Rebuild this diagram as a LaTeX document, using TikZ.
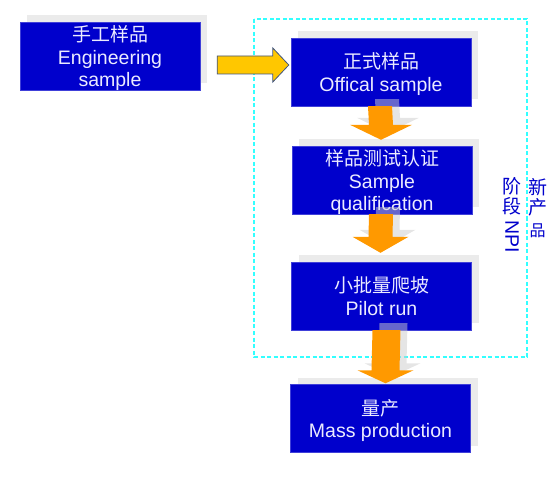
\documentclass[tikz,border=0pt]{standalone}
\usepackage{fontspec}
\setmainfont{Liberation Sans}
\newfontfamily\cjk{Noto Sans CJK SC}
\usetikzlibrary{calc,shadows,positioning}
\definecolor{boxBlue}{rgb}{0,0,0.8}
\definecolor{boxText}{rgb}{0.92,0.92,1}
\definecolor{shadowGray}{rgb}{0.92,0.92,0.92}
\definecolor{arrowShade}{rgb}{0.8,0.8,0.8}
\definecolor{npiCyan}{rgb}{0.2,1,1}
\definecolor{stepOrange}{rgb}{1,0.6,0}
\definecolor{pushYellow}{rgb}{1,0.78,0}
\definecolor{pushBorder}{rgb}{0.25,0.33,0.5}
\newcommand{\zh}[1]{{\cjk\fontsize{19}{22}\selectfont #1}}
% lower the lines of a stage a little, keep its size
\newcommand{\stageText}[1]{\raisebox{-3.5pt}[\height][\depth]{\begin{tabular}{@{}c@{}}#1\end{tabular}}}
\begin{document}
\begin{tikzpicture}[x=1pt,y=-1pt,
  stage/.style={fill=boxBlue, draw=boxBlue!75!white, line width=0.4pt, text=boxText,
    minimum width=180pt, minimum height=68pt, inner sep=0pt, align=center,
    font=\fontsize{19.5}{22.5}\selectfont,
    drop shadow={shadow xshift=7pt, shadow yshift=7pt, fill=shadowGray, opacity=1}},
  stepFill/.style={fill=stepOrange},
  stepShade/.style={fill=arrowShade, fill opacity=0.5},
  npiText/.style={text=boxBlue, inner sep=0pt}]

\useasboundingbox (0,0) rectangle (554,486);

% the NPI frame
\draw [npiCyan, line width=1.3pt, dash pattern=on 4pt off 2.5pt] (254,19) rectangle (527,357);

% the stages
\node[stage] (eng)   at (110,56)      {\stageText{\zh{手工样品}\\Engineering\\sample}};
\node[stage] (off)   at (381,72)      {\stageText{\zh{正式样品}\\Offical sample}};
\node[stage] (qual)  at (382,180)     {\stageText{\zh{样品测试认证}\\Sample\\qualification}};
\node[stage] (pilot) at (381.5,296)   {\stageText{\zh{小批量爬坡}\\Pilot run}};
\node[stage] (mass)  at (380.5,418.5) {\stageText{\zh{量产}\\Mass production}};

% push arrow into the NPI frame
\coordinate (pushStart) at ($(eng.east)+(17,9)$);
\coordinate (pushTip) at ($(off.west)+(-2,-7)$);
\filldraw[fill=pushYellow, draw=pushBorder, line width=0.8pt]
  ($(pushStart)+(0,-9)$) -- ($(pushTip)+(-16,-9)$) -- ($(pushTip)+(-16,-17)$) -- (pushTip)
  -- ($(pushTip)+(-16,17)$) -- ($(pushTip)+(-16,9)$) -- ($(pushStart)+(0,9)$) -- cycle;

% the step arrows, shade first
\foreach \a/\b/\dx/\w/\hw/\hl/\gap in {off/qual/-1/12/31/15/6, qual/pilot/-1/12/28/16/9, pilot/mass/5/14/28/13/1}
  \foreach \ox/\oy/\look in {7/-7/stepShade, 0/0/stepFill}
  {
    \coordinate (s) at ($(\a.south)+(\dx+\ox,\oy)$);
    \coordinate (t) at ($(\b.north)+(\dx+\ox,-\gap+\oy)$);
    \fill[\look] ($(s)+(-\w,0)$) -- ($(t)+(-\w,-\hl)$) -- ($(t)+(-\hw,-\hl)$) -- (t)
      -- ($(t)+(\hw,-\hl)$) -- ($(t)+(\w,-\hl)$) -- ($(s)+(\w,0)$) -- cycle;
  }

% vertical label of the frame
\foreach \ch/\cy/\cs [count=\ni] in {新/187/19, 产/207/19, 品/230.5/16}
  \node[npiText, font=\cjk\fontsize{\cs}{\cs}\selectfont] (npiR\ni) at (537.5,\cy) {\ch};
\foreach \ch/\cy [count=\ni] in {阶/186, 段/206}
  \node[npiText, font=\cjk\fontsize{19}{19}\selectfont] (npiL\ni) at (512,\cy) {\ch};
\node[npiText, rotate=-90, font=\fontsize{19.5}{19.5}\selectfont] (npiT) at (512,236.5) {NPI};

\end{tikzpicture}
\end{document}
